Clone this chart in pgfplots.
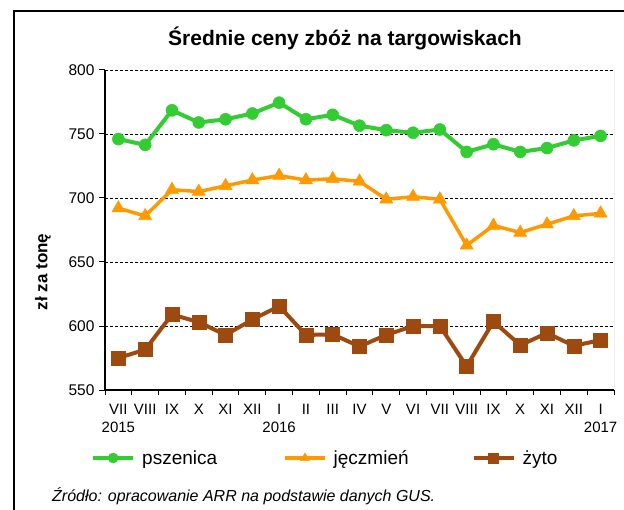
\documentclass[border=0pt]{standalone}
\usepackage{fontspec}
\setmainfont{Liberation Sans}
\usepackage{pgfplots}
\pgfplotsset{compat=1.18}
\definecolor{cgreen}{RGB}{51,204,51}
\definecolor{corange}{RGB}{255,153,0}
\definecolor{cbrown}{RGB}{156,74,16}
\begin{document}
\begin{tikzpicture}
\useasboundingbox (0,0) rectangle (624pt,509pt);
\fill[white] (0,0) rectangle (624pt,509pt);
\draw[line width=1.3pt] (14pt,-2pt) -- (14pt,498pt) -- (630pt,498pt);
\node[font=\bfseries\fontsize{21}{24}\selectfont] at (345pt,471pt) {Średnie ceny zbóż na targowiskach};
\node[rotate=90, font=\bfseries\fontsize{17}{20}\selectfont] at (43pt,237pt) {zł za tonę};
\node[anchor=west, font=\itshape\fontsize{16}{18}\selectfont, inner sep=0pt] at (52pt,13pt) {Źródło: opracowanie ARR na podstawie danych GUS.};
\begin{axis}[
  at={(105pt,119pt)}, anchor=south west,
  scale only axis, width=509pt, height=320pt,
  xmin=-0.5, xmax=18.5, ymin=550, ymax=800,
  axis x line*=bottom, axis y line*=left,
  axis line style={black, line width=1.2pt},
  ytick={550,600,...,800},
  xtick={0,...,18},
  xticklabels={VII\\2015,VIII,IX,X,XI,XII,I\\2016,II,III,IV,V,VI,VII,VIII,IX,X,XI,XII,I\\2017},
  xticklabel style={align=center, font=\fontsize{15}{17.5}\selectfont, yshift=-5pt},
  yticklabel style={font=\fontsize{15.5}{18}\selectfont, xshift=-1pt},
  /pgf/number format/assume math mode=true,
  minor xtick={-0.5,0.5,...,18.5},
  major x tick style={draw=none},
  tick align=outside,
  major tick length=6pt, minor tick length=5pt,
  tick style={black, line width=1pt},
  ymajorgrids, grid style={black, line width=0.8pt, dash pattern=on 3pt off 2pt},
  legend columns=3,
  legend style={at={(axis description cs:0,0)}, anchor=west, xshift=-14pt, yshift=-68pt,
    draw=none, fill=none, inner sep=0pt, font=\fontsize{19}{22}\selectfont,
    /tikz/every odd column/.append style={column sep=5pt}},
  legend image code/.code={\draw[mark repeat=2,mark phase=2,#1,mark size=5pt] plot coordinates {(0pt,0pt) (20pt,0pt) (40pt,0pt)};},
]
\draw[gray, line width=1pt] (rel axis cs:1,0) -- (rel axis cs:1,1);
\addplot[cgreen, line width=4pt, mark=*, mark size=6pt, mark options={line width=0.5pt}] coordinates {
(0,746) (1,741.5) (2,768.5) (3,759) (4,761.5) (5,766) (6,774.5) (7,761.5) (8,765) (9,756.5)
(10,753) (11,751) (12,753.5) (13,736) (14,742) (15,736) (16,739) (17,745) (18,748.5)};
\addlegendentry{\makebox[139pt][l]{pszenica}}
\addplot[corange, line width=3.5pt, mark=triangle*, mark size=7.5pt, mark options={line width=0.5pt}] coordinates {
(0,692) (1,686) (2,706.5) (3,705) (4,709.5) (5,714) (6,717.5) (7,714) (8,715) (9,713)
(10,699) (11,701) (12,699) (13,663) (14,678.5) (15,673) (16,679.5) (17,686) (18,688)};
\addlegendentry{\makebox[136pt][l]{jęczmień}}
\addplot[cbrown, line width=4pt, mark=square*, mark size=7pt, mark options={line width=0.5pt}] coordinates {
(0,575) (1,581.5) (2,609) (3,603) (4,593) (5,605) (6,615.5) (7,593) (8,593.5) (9,584)
(10,593) (11,600) (12,600) (13,568.5) (14,603.5) (15,585) (16,594.5) (17,584.5) (18,589)};
\addlegendentry{żyto}
\end{axis}
\end{tikzpicture}
\end{document}
